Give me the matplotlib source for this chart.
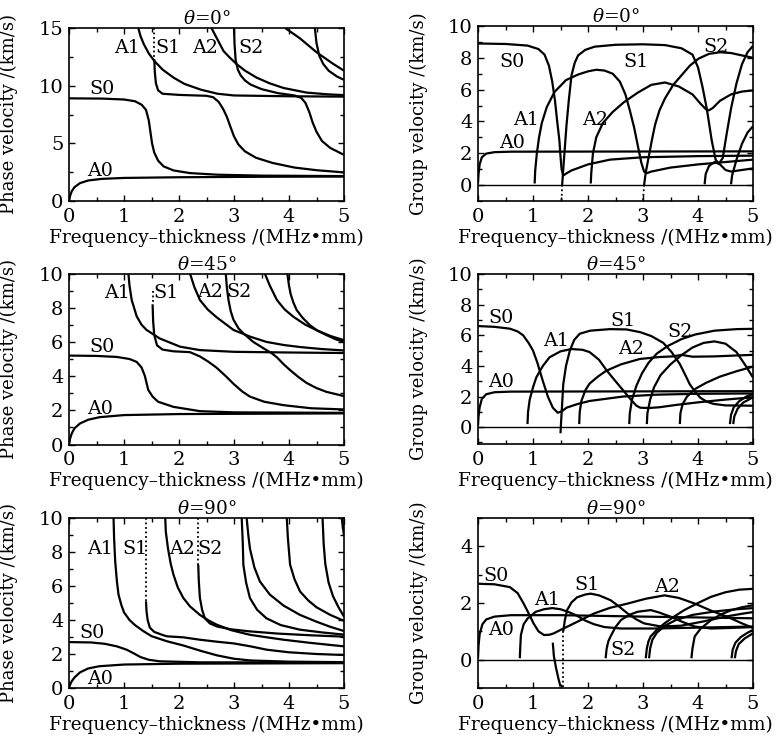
import matplotlib
matplotlib.use("Agg")
import matplotlib.pyplot as plt
from matplotlib.ticker import MultipleLocator

plt.rcParams['font.family'] = ['DejaVu Serif']
plt.rcParams['mathtext.fontset'] = 'dejavuserif'
FS = 13.3
TICK_FS = 14

# ---------------- phase velocity, theta = 0 ----------------
ph0_A0 = [(0, 0), (0.02, 0.45), (0.05, 0.85), (0.1, 1.2), (0.2, 1.55), (0.35, 1.78), (0.6, 1.92),
          (1.0, 2.0), (2.0, 2.06), (3.5, 2.1), (5, 2.12)]
ph0_S0 = [(0, 8.9), (0.6, 8.88), (1.0, 8.8), (1.2, 8.65), (1.32, 8.35), (1.4, 7.9), (1.45, 7.0),
          (1.48, 6.0), (1.51, 5.0), (1.55, 4.2), (1.62, 3.5), (1.72, 3.0), (1.9, 2.65), (2.2, 2.42),
          (2.7, 2.28), (3.5, 2.2), (5, 2.16)]
ph0_S1_dot = [(1.55, 15), (1.55, 12.3)]
ph0_S1 = [(1.55, 12.3), (1.56, 11.2), (1.58, 10.2), (1.62, 9.6), (1.7, 9.3), (2.0, 9.2), (2.5, 9.12),
          (2.62, 9.0), (2.72, 8.6), (2.8, 8.0), (2.87, 7.3), (2.93, 6.5), (3.0, 5.6), (3.08, 4.9),
          (3.2, 4.3), (3.4, 3.75), (3.7, 3.3), (4.1, 2.9), (4.5, 2.67), (5, 2.48)]
ph0_A1 = [(1.26, 15), (1.3, 14.3), (1.36, 13.6), (1.45, 12.8), (1.55, 12.15), (1.7, 11.4), (1.9, 10.7),
          (2.1, 10.15), (2.4, 9.65), (2.7, 9.3), (3.0, 9.15), (4.0, 9.08), (5, 9.05)]
ph0_A2 = [(2.59, 15), (2.7, 14.0), (2.81, 13.0), (2.93, 12.4), (3.05, 11.86), (3.2, 11.3), (3.41, 10.7),
          (3.65, 10.2), (3.9, 9.8), (4.32, 9.4), (4.7, 9.25), (5, 9.18)]
ph0_S2 = [(3.0, 15), (3.01, 13.6), (3.03, 12.2), (3.07, 11.4), (3.12, 10.9), (3.2, 10.45), (3.3, 10.1),
          (3.5, 9.7), (3.8, 9.35), (4.1, 9.15), (4.22, 8.95), (4.3, 8.5), (4.37, 7.7), (4.43, 6.8),
          (4.5, 6.0), (4.6, 5.2), (4.75, 4.6), (5, 4.0)]
ph0_M5 = [(3.93, 15), (4.2, 14.1), (4.5, 12.9), (4.8, 11.9), (5, 11.3)]
ph0_M6 = [(4.47, 15), (4.5, 13.7), (4.55, 12.6), (4.62, 11.9), (4.72, 11.3), (4.87, 10.8), (5, 10.5)]

# ---------------- group velocity, theta = 0 ----------------
gr0_A0 = [(0, 0.1), (0.01, 0.7), (0.03, 1.3), (0.07, 1.75), (0.15, 1.98), (0.3, 2.07), (0.6, 2.1), (5, 2.12)]
gr0_S0 = [(0, 8.9), (0.5, 8.87), (0.9, 8.77), (1.1, 8.55), (1.21, 8.2), (1.29, 7.5), (1.35, 6.5),
          (1.4, 5.3), (1.44, 4.0), (1.48, 2.8), (1.5, 1.8), (1.52, 1.0), (1.55, 0.6), (1.6, 0.72),
          (1.7, 0.92), (2.0, 1.3), (2.4, 1.6), (3.0, 1.75), (4.0, 1.82), (5, 1.85)]
gr0_A1 = [(1.03, 0.1), (1.04, 0.9), (1.07, 2.0), (1.11, 3.0), (1.16, 3.9), (1.25, 4.9), (1.39, 5.85),
          (1.6, 6.6), (1.82, 6.95), (2.0, 7.15), (2.15, 7.25), (2.3, 7.2), (2.45, 7.0), (2.58, 6.5),
          (2.68, 5.7), (2.76, 4.7), (2.84, 3.6), (2.91, 2.4), (2.97, 1.4), (3.02, 0.85), (3.07, 0.75),
          (3.15, 0.85), (3.5, 1.1), (4.0, 1.3), (4.5, 1.45), (5, 1.6)]
gr0_S1_dot = [(1.52, -0.95), (1.53, 0.0)]
gr0_S1 = [(1.53, 0.0), (1.55, 1.0), (1.58, 2.4), (1.61, 3.8), (1.65, 5.3), (1.7, 6.9), (1.76, 7.7),
          (1.82, 8.15), (1.95, 8.5), (2.12, 8.7), (2.5, 8.82), (3.0, 8.85), (3.4, 8.8), (3.7, 8.6),
          (3.9, 8.2), (4.0, 7.4), (4.08, 6.2), (4.16, 4.8), (4.25, 2.8), (4.32, 1.6), (4.38, 1.35),
          (4.45, 1.7), (4.52, 3.2), (4.6, 4.8), (4.7, 6.4), (4.8, 7.6), (4.9, 8.35), (5, 8.75)]
gr0_A2 = [(2.05, 0.1), (2.06, 0.8), (2.09, 2.0), (2.15, 3.0), (2.27, 3.9), (2.45, 4.6), (2.65, 5.2),
          (2.9, 5.8), (3.15, 6.3), (3.4, 6.45), (3.65, 6.2), (3.9, 5.7), (4.05, 5.1), (4.15, 4.75),
          (4.2, 4.7), (4.27, 4.85), (4.4, 5.3), (4.6, 5.7), (4.8, 5.88), (5, 5.95)]
gr0_S2_dot = [(3.0, -0.95), (3.02, 0.0)]
gr0_S2 = [(3.02, 0.0), (3.05, 0.8), (3.1, 1.7), (3.16, 2.8), (3.22, 3.8), (3.3, 4.7), (3.4, 5.45),
          (3.55, 6.3), (3.7, 6.9), (3.85, 7.5), (4.01, 7.95), (4.2, 8.25), (4.4, 8.35), (4.6, 8.3),
          (4.8, 8.15), (5, 8.0)]
gr0_A3 = [(4.12, 0.05), (4.14, 0.7), (4.2, 1.2), (4.3, 1.45), (4.4, 1.3), (4.5, 0.95), (4.6, 0.85),
          (4.8, 0.95), (5, 1.05)]
gr0_S3 = [(4.6, 0.05), (4.62, 0.6), (4.7, 1.6), (4.8, 2.6), (4.9, 3.3), (5, 3.7)]

# ---------------- phase velocity, theta = 45 ----------------
ph45_A0 = [(0, 0), (0.02, 0.35), (0.05, 0.65), (0.1, 0.95), (0.2, 1.23), (0.35, 1.45), (0.56, 1.6),
           (1.0, 1.72), (2.0, 1.78), (5, 1.82)]
ph45_S0 = [(0, 5.2), (0.5, 5.18), (0.87, 5.12), (1.1, 5.0), (1.23, 4.83), (1.32, 4.5), (1.38, 4.0),
           (1.44, 3.2), (1.52, 2.8), (1.62, 2.5), (1.9, 2.2), (2.38, 1.95), (3.0, 1.88), (5, 1.85)]
ph45_S1_dot = [(1.52, 9.0), (1.52, 8.2)]
ph45_S1 = [(1.52, 8.2), (1.53, 7.2), (1.55, 6.4), (1.6, 5.8), (1.7, 5.55), (1.9, 5.45), (2.2, 5.4),
           (2.38, 5.15), (2.53, 4.85), (2.68, 4.5), (2.85, 4.0), (2.99, 3.55), (3.15, 3.1), (3.29, 2.8),
           (3.55, 2.5), (3.9, 2.3), (4.4, 2.12), (5, 2.05)]
ph45_A1 = [(1.08, 10), (1.1, 9.3), (1.14, 8.45), (1.23, 7.5), (1.32, 7.0), (1.41, 6.7), (1.65, 6.2),
           (2.02, 5.72), (2.38, 5.52), (3.0, 5.42), (4.0, 5.38), (5, 5.35)]
ph45_A2 = [(2.2, 10), (2.28, 9.2), (2.38, 8.45), (2.52, 7.9), (2.68, 7.45), (2.99, 6.7), (3.3, 6.3),
           (3.59, 6.0), (3.9, 5.82), (4.2, 5.7), (4.6, 5.58), (5, 5.5)]
ph45_S2 = [(2.85, 10), (2.87, 9.2), (2.9, 8.45), (2.94, 7.8), (2.99, 7.3), (3.08, 6.8), (3.17, 6.5),
           (3.35, 6.0), (3.5, 5.7), (3.6, 5.5), (3.68, 5.35), (3.78, 5.1), (3.9, 4.7), (4.02, 4.35),
           (4.17, 3.95), (4.32, 3.6), (4.5, 3.3), (4.68, 3.08), (5, 2.83)]
ph45_M5 = [(3.56, 10), (3.65, 9.3), (3.78, 8.45), (3.92, 7.9), (4.08, 7.47), (4.3, 7.0), (4.5, 6.69),
           (4.75, 6.35), (5, 6.1)]
ph45_M6 = [(3.97, 10), (4.0, 9.3), (4.03, 8.8), (4.08, 8.3), (4.14, 7.86), (4.25, 7.4), (4.38, 6.98),
           (4.52, 6.65), (4.68, 6.4), (4.85, 6.15), (5, 6.0)]

# ---------------- group velocity, theta = 45 ----------------
gr45_A0 = [(0, 0.1), (0.01, 0.7), (0.03, 1.3), (0.07, 1.85), (0.15, 2.15), (0.3, 2.28), (0.6, 2.32), (5, 2.35)]
gr45_S0 = [(0, 6.6), (0.3, 6.55), (0.58, 6.43), (0.72, 6.25), (0.82, 6.0), (0.92, 5.5), (1.0, 5.0),
           (1.08, 4.2), (1.18, 3.0), (1.27, 2.0), (1.36, 1.27), (1.45, 0.94), (1.53, 1.05), (1.61, 1.27),
           (1.8, 1.5), (2.03, 1.71), (2.64, 2.0), (3.24, 2.12), (4.0, 2.18), (5, 2.2)]
gr45_A1 = [(0.9, 0.2), (0.91, 1.0), (0.94, 1.8), (1.0, 2.6), (1.06, 3.25), (1.18, 4.0), (1.3, 4.56),
           (1.5, 4.95), (1.7, 5.1), (1.9, 5.05), (2.03, 4.9), (2.2, 4.4), (2.34, 3.7), (2.5, 3.0),
           (2.64, 2.4), (2.78, 1.8), (2.88, 1.4), (2.95, 1.27), (3.1, 1.25), (3.3, 1.3), (3.6, 1.45),
           (4.0, 1.62), (4.5, 1.8), (5, 1.95)]
gr45_S1 = [(1.5, -0.4), (1.51, 0.3), (1.53, 1.5), (1.55, 2.8), (1.6, 4.0), (1.67, 5.0), (1.75, 5.7),
           (1.85, 6.1), (2.04, 6.3), (2.4, 6.4), (2.7, 6.38), (2.95, 6.2), (3.15, 5.95), (3.37, 5.5),
           (3.52, 4.9), (3.67, 4.12), (3.77, 3.4), (3.85, 2.8), (3.95, 2.3), (4.04, 1.93), (4.15, 1.68),
           (4.28, 1.52), (4.5, 1.42), (5, 1.4)]
gr45_A2 = [(1.84, 0.2), (1.85, 1.0), (1.88, 1.71), (1.95, 2.4), (2.03, 2.85), (2.18, 3.3), (2.33, 3.68),
           (2.6, 4.1), (2.94, 4.45), (3.3, 4.58), (3.55, 4.62), (3.7, 4.72), (3.9, 4.6), (4.3, 4.62),
           (4.7, 4.68), (5, 4.72)]
gr45_S2 = [(2.75, 0.2), (2.76, 0.9), (2.8, 1.8), (2.88, 2.7), (2.98, 3.5), (3.1, 4.2), (3.25, 4.8),
           (3.45, 5.3), (3.7, 5.75), (3.95, 6.05), (4.3, 6.3), (4.7, 6.4), (5, 6.42)]
gr45_A3 = [(3.07, 0.2), (3.08, 0.9), (3.13, 1.8), (3.2, 2.6), (3.32, 3.4), (3.5, 4.1), (3.7, 4.7),
           (3.9, 5.2), (4.1, 5.5), (4.3, 5.6), (4.5, 5.45), (4.7, 4.9), (4.85, 4.1), (5, 3.24)]
gr45_S3 = [(3.67, 0.2), (3.68, 0.9), (3.72, 1.5), (3.8, 2.0), (3.95, 2.5), (4.15, 2.9), (4.4, 3.3),
           (4.7, 3.65), (5, 3.95)]
gr45_A4 = [(4.58, 0.2), (4.6, 0.8), (4.65, 1.3), (4.75, 1.7), (4.88, 2.0), (5, 2.15)]
gr45_S4 = [(4.64, 0.2), (4.66, 0.7), (4.72, 1.2), (4.82, 1.6), (5, 1.95)]

# ---------------- phase velocity, theta = 90 ----------------
ph90_A0 = [(0, 0), (0.02, 0.2), (0.05, 0.4), (0.1, 0.62), (0.2, 0.92), (0.35, 1.15), (0.55, 1.28),
           (1.0, 1.38), (2.0, 1.43), (5, 1.46)]
ph90_S0 = [(0, 2.7), (0.4, 2.68), (0.65, 2.6), (0.87, 2.45), (1.05, 2.25), (1.17, 2.05), (1.3, 1.82),
           (1.45, 1.66), (1.65, 1.57), (2.38, 1.51), (5, 1.5)]
ph90_A1 = [(0.81, 10), (0.82, 8.8), (0.84, 7.45), (0.87, 6.3), (0.9, 5.5), (0.95, 4.9), (1.0, 4.45),
           (1.1, 4.0), (1.2, 3.7), (1.35, 3.35), (1.5, 3.05), (1.78, 2.75), (2.08, 2.5), (2.38, 2.2),
           (2.69, 1.92), (3.0, 1.72), (3.3, 1.62), (4.0, 1.55), (5, 1.52)]
ph90_S1_dot = [(1.4, 10), (1.4, 5.1)]
ph90_S1 = [(1.4, 5.1), (1.41, 4.5), (1.43, 4.0), (1.47, 3.55), (1.55, 3.3), (1.7, 3.12), (1.78, 3.04),
           (2.08, 2.98), (2.38, 2.84), (2.7, 2.72), (3.0, 2.62), (3.3, 2.45), (3.6, 2.25), (4.0, 2.1),
           (4.5, 2.0), (5, 1.94)]
ph90_A2 = [(1.75, 10), (1.76, 9.2), (1.8, 8.2), (1.85, 7.3), (1.9, 6.66), (1.98, 5.9), (2.08, 5.29),
           (2.2, 4.8), (2.38, 4.3), (2.55, 3.95), (2.69, 3.72), (2.95, 3.4), (3.29, 3.13), (3.6, 2.98),
           (3.9, 2.84), (4.4, 2.65), (5, 2.45)]
ph90_S2_dot = [(2.35, 10), (2.35, 7.25)]
ph90_S2 = [(2.35, 7.25), (2.36, 6.3), (2.38, 5.3), (2.42, 4.6), (2.47, 4.1), (2.56, 3.8), (2.69, 3.62),
           (2.95, 3.45), (3.29, 3.33), (3.8, 3.2), (4.4, 3.1), (5, 3.02)]
ph90_M5 = [(3.14, 10), (3.16, 8.5), (3.17, 7.25), (3.22, 6.2), (3.29, 5.29), (3.42, 4.6), (3.59, 4.1),
           (3.85, 3.7), (4.2, 3.43), (4.6, 3.27), (5, 3.14)]
ph90_M6 = [(3.23, 10), (3.26, 9.0), (3.29, 8.2), (3.37, 7.1), (3.47, 6.27), (3.65, 5.5), (3.9, 4.85),
           (4.2, 4.3), (4.5, 3.9), (4.75, 3.6), (5, 3.35)]
ph90_M7 = [(3.96, 10), (3.98, 8.8), (4.02, 7.25), (4.1, 6.4), (4.2, 5.68), (4.35, 5.15), (4.5, 4.75),
           (4.75, 4.3), (5, 3.95)]
ph90_M8 = [(4.61, 10), (4.63, 8.5), (4.66, 7.3), (4.72, 6.2), (4.8, 5.4), (4.9, 4.75), (5, 4.2)]
ph90_M9 = [(4.96, 10), (4.98, 9.4), (5, 9.0)]

# ---------------- group velocity, theta = 90 ----------------
gr90_A0 = [(0, 0.05), (0.01, 0.5), (0.03, 0.9), (0.08, 1.25), (0.15, 1.42), (0.3, 1.52), (0.6, 1.57),
           (1.5, 1.57), (3, 1.52), (5, 1.46)]
gr90_S0 = [(0, 2.68), (0.3, 2.66), (0.58, 2.56), (0.72, 2.35), (0.83, 1.98), (0.93, 1.6), (1.01, 1.28),
           (1.1, 1.0), (1.2, 0.87), (1.3, 0.88), (1.38, 0.93), (1.5, 1.05), (1.63, 1.17), (1.85, 1.38),
           (2.11, 1.63), (2.4, 1.83), (2.72, 1.98), (3.05, 2.15), (3.39, 2.27), (3.65, 2.18), (3.94, 1.98),
           (4.25, 1.72), (4.55, 1.5), (4.8, 1.28), (5, 1.12)]
gr90_neg = [(1.36, 0.6), (1.38, 0.12), (1.42, -0.3), (1.46, -0.65), (1.5, -0.95)]
gr90_A1 = [(0.76, 0.05), (0.77, 0.5), (0.78, 0.87), (0.83, 1.25), (0.9, 1.45), (1.05, 1.69), (1.2, 1.78),
           (1.35, 1.82), (1.5, 1.78), (1.65, 1.68), (1.8, 1.55), (1.95, 1.38), (2.11, 1.25), (2.3, 1.15),
           (2.6, 1.1), (3.2, 1.1), (4.0, 1.13), (5, 1.17)]
gr90_S1_dot = [(1.55, -0.95), (1.55, 1.0)]
gr90_S1 = [(1.55, 1.0), (1.58, 1.4), (1.62, 1.75), (1.7, 2.02), (1.8, 2.2), (1.95, 2.3), (2.05, 2.33),
           (2.2, 2.27), (2.41, 2.1), (2.55, 1.9), (2.72, 1.63), (2.88, 1.42), (3.02, 1.28), (3.33, 1.17),
           (3.7, 1.2), (4.1, 1.35), (4.5, 1.52), (4.8, 1.62), (5, 1.68)]
gr90_S2 = [(2.32, 0.05), (2.34, 0.4), (2.37, 0.65), (2.41, 0.82), (2.5, 1.15), (2.6, 1.4), (2.75, 1.58),
           (2.9, 1.69), (3.14, 1.75), (3.3, 1.66), (3.51, 1.51), (3.72, 1.33), (3.94, 1.17), (4.24, 1.1),
           (4.6, 1.12), (5, 1.15)]
gr90_A2 = [(3.05, 0.05), (3.07, 0.4), (3.1, 0.65), (3.14, 0.82), (3.25, 1.05), (3.39, 1.28), (3.55, 1.5),
           (3.75, 1.75), (4.0, 2.0), (4.24, 2.22), (4.5, 2.38), (4.75, 2.47), (5, 2.5)]
gr90_S3 = [(3.11, 0.05), (3.13, 0.4), (3.17, 0.7), (3.25, 0.95), (3.4, 1.2), (3.6, 1.4), (3.9, 1.58),
           (4.3, 1.7), (4.7, 1.78), (5, 1.82)]
gr90_A3 = [(3.88, 0.05), (3.9, 0.4), (3.94, 0.82), (4.05, 1.1), (4.24, 1.4), (4.42, 1.6), (4.61, 1.75),
           (4.8, 1.85), (5, 1.92)]
gr90_S4 = [(4.61, 0.05), (4.63, 0.35), (4.68, 0.6), (4.78, 0.8), (4.9, 0.95), (5, 1.05)]
gr90_A4 = [(4.67, 0.05), (4.69, 0.3), (4.74, 0.55), (4.85, 0.75), (5, 0.93)]

# mode labels (text, x, y)
lab_ph0 = [("A1", 1.05, 13.25), ("S1", 1.8, 13.25), ("A2", 2.47, 13.25), ("S2", 3.3, 13.25),
           ("S0", 0.6, 9.7), ("A0", 0.56, 2.6)]
lab_gr0 = [("S0", 0.62, 7.75), ("S1", 2.88, 7.75), ("S2", 4.33, 8.7), ("A1", 0.88, 4.1),
           ("A2", 2.12, 4.1), ("A0", 0.62, 2.65)]
lab_ph45 = [("A1", 0.87, 8.85), ("S1", 1.77, 8.85), ("A2", 2.56, 8.9), ("S2", 3.1, 8.9),
            ("S0", 0.6, 5.72), ("A0", 0.56, 2.1)]
lab_gr45 = [("S0", 0.42, 7.1), ("A1", 1.42, 5.65), ("S1", 2.64, 6.95), ("S2", 3.67, 6.2),
            ("A2", 2.78, 5.1), ("A0", 0.42, 2.95)]
lab_ph90 = [("A1", 0.56, 8.15), ("S1", 1.2, 8.15), ("A2", 2.05, 8.15), ("S2", 2.57, 8.15),
            ("S0", 0.42, 3.25), ("A0", 0.56, 0.5)]
lab_gr90 = [("S0", 0.32, 2.97), ("A1", 1.26, 2.1), ("S1", 1.99, 2.62), ("A2", 3.43, 2.57),
            ("A0", 0.41, 1.05), ("S2", 2.63, 0.35)]

panels = [
    dict(title=r"$\theta$=0°", ylabel="Phase velocity /(km/s)", ylim=(0, 15), major=5, minor=2.5,
         solid=[ph0_A0, ph0_S0, ph0_S1, ph0_A1, ph0_A2, ph0_S2, ph0_M5, ph0_M6],
         dotted=[ph0_S1_dot], labels=lab_ph0, zero=False, rect=(69, 28, 275, 173), ylx=-0.185),
    dict(title=r"$\theta$=0°", ylabel="Group velocity /(km/s)", ylim=(-1, 10), major=2, minor=1,
         solid=[gr0_A0, gr0_S0, gr0_A1, gr0_S1, gr0_A2, gr0_S2, gr0_A3, gr0_S3],
         dotted=[gr0_S1_dot, gr0_S2_dot], labels=lab_gr0, zero=True, rect=(478, 26, 275, 175), ylx=-0.18),
    dict(title=r"$\theta$=45°", ylabel="Phase velocity /(km/s)", ylim=(0, 10), major=2, minor=1,
         solid=[ph45_A0, ph45_S0, ph45_S1, ph45_A1, ph45_A2, ph45_S2, ph45_M5, ph45_M6],
         dotted=[ph45_S1_dot], labels=lab_ph45, zero=False, rect=(69, 273.5, 275, 171), ylx=-0.185),
    dict(title=r"$\theta$=45°", ylabel="Group velocity /(km/s)", ylim=(-1.1, 10), major=2, minor=1,
         solid=[gr45_A0, gr45_S0, gr45_A1, gr45_S1, gr45_A2, gr45_S2, gr45_A3, gr45_S3, gr45_A4, gr45_S4],
         dotted=[], labels=lab_gr45, zero=True, rect=(478, 274, 275, 170), ylx=-0.18),
    dict(title=r"$\theta$=90°", ylabel="Phase velocity /(km/s)", ylim=(0, 10), major=2, minor=1,
         solid=[ph90_A0, ph90_S0, ph90_A1, ph90_S1, ph90_A2, ph90_S2, ph90_M5, ph90_M6, ph90_M7,
                ph90_M8, ph90_M9],
         dotted=[ph90_S1_dot, ph90_S2_dot], labels=lab_ph90, zero=False, rect=(69, 518, 275, 170), ylx=-0.185),
    dict(title=r"$\theta$=90°", ylabel="Group velocity /(km/s)", ylim=(-1, 5), major=2, minor=1,
         solid=[gr90_A0, gr90_S0, gr90_neg, gr90_A1, gr90_S1, gr90_S2, gr90_A2, gr90_S3, gr90_A3,
                gr90_S4, gr90_A4],
         dotted=[gr90_S1_dot], labels=lab_gr90, zero=True, rect=(478, 518, 275, 170), ylx=-0.18),
]

W, H = 776, 742
fig = plt.figure(figsize=(W / 100, H / 100), dpi=100)

for p in panels:
    left, top, w, h = p["rect"]
    ax = fig.add_axes([left / W, 1 - (top + h) / H, w / W, h / H])
    for c in p["solid"]:
        xs, ys = zip(*c)
        ax.plot(xs, ys, color="black", lw=1.6, solid_capstyle="butt")
    for c in p["dotted"]:
        xs, ys = zip(*c)
        ax.plot(xs, ys, color="black", lw=1.3, ls=(0, (1, 1.5)))
    if p["zero"]:
        ax.axhline(0, color="black", lw=1.0)
    for txt, x, y in p["labels"]:
        ax.text(x, y, txt, fontsize=FS + 0.5, ha="center", va="center")

    ax.set_xlim(0, 5)
    ax.set_ylim(*p["ylim"])
    ax.xaxis.set_major_locator(MultipleLocator(1))
    ax.xaxis.set_minor_locator(MultipleLocator(0.5))
    ax.yaxis.set_major_locator(MultipleLocator(p["major"]))
    ax.yaxis.set_minor_locator(MultipleLocator(p["minor"]))
    ax.tick_params(which="both", direction="in", top=True, right=True, labelsize=TICK_FS)
    ax.tick_params(axis="x", which="both", pad=5)
    ax.tick_params(axis="y", which="both", pad=4)
    ax.tick_params(which="major", length=4, width=1)
    ax.tick_params(which="minor", length=3, width=1)
    for s in ax.spines.values():
        s.set_linewidth(1.2)
    ax.set_title(p["title"], fontsize=FS, pad=2)
    ax.set_xlabel("Frequency–thickness /(MHz•mm)", fontsize=FS, labelpad=2)
    ax.set_ylabel(p["ylabel"], fontsize=13)
    ax.yaxis.set_label_coords(p["ylx"], 0.5)

fig.savefig("out.png", dpi=100)
